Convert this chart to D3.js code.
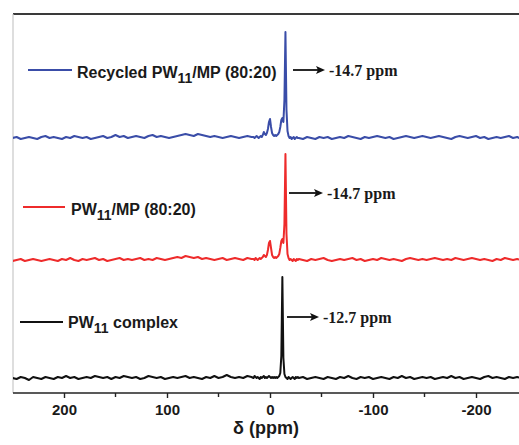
<!DOCTYPE html>
<html>
<head>
<meta charset="utf-8">
<script src="https://cdn.jsdelivr.net/npm/d3@7"></script>
<style>
  html, body { margin: 0; padding: 0; background: #fff; }
  svg { display: block; }
</style>
</head>
<body>
<svg id="chart" width="519" height="445"></svg>
<script>
// ---- data ----
// chemical shift grid (ppm): coarse / fine (peak region) / coarse
const ppmGrid = [].concat(d3.range(250, 16, -4), d3.range(16, -28, -1), d3.range(-28, -251, -4));

const seriesNames = ["Recycled PW11/MP (80:20)", "PW11/MP (80:20)", "PW11 complex"];
const seriesColors = ["#3a4da8", "#ee2b2b", "#111111"];
const seriesOffsets = [255, 133, 15];
const peakLabels = ["-14.7 ppm", "-14.7 ppm", "-12.7 ppm"];
const xTicksMajor = [200, 100, 0, -100, -200];
const xTicksMinor = [150, 50, -50, -150];

const recycledValues = [
  0, 1, -1, 0, 1, 0, -1, 1, 2, 0,
  1, 0, -1, 1, 0, 2, 1, 0, 1, -1,
  0, 1, 2, 0, 1, 3, 1, 2, 0, 1,
  2, 1, 0, 2, 3, 1, 2, 1, 0, 1,
  2, 3, 4, 3, 2, 4, 3, 2, 1, 2,
  1, 0, 1, 2, 1, 0, 1, 2, 1,
  // fine 16 .. -27
  1, 0, 1, 2, 1, 0, 1, 2, 1, 3,
  6, 4, 3, 5, 9, 16, 19, 11, 5, 3,
  2, 3, 2, 3, 4, 6, 11, 18, 20, 16,
  38, 106, 28, 7, 2, 0, 1, -1, 0, 1,
  -1, 0, 1, 0,
  // coarse -28 .. -248
  0, -1, 1, 0, -1, 1, 0, 1, -1, 0,
  1, 0, 2, 1, 0, -1, 1, 0, 1, 2,
  1, 0, 1, -1, 0, 1, 2, 1, 0, 1,
  2, 1, 0, 1, 2, 1, 0, -1, 1, 2,
  1, 0, 1, 2, 0, 1, -1, 0, 1, 0,
  1, 2, 0, 1, -1, 0
];

const freshValues = [
  -1, 0, 1, -1, 0, 1, 0, -1, 0, 1,
  0, -1, 1, 0, 2, 0, -1, 1, 0, 1,
  2, 0, 1, -1, 0, 1, 2, 0, 1, 0,
  1, 2, 0, 1, 0, 2, 1, 0, 1, 2,
  3, 2, 4, 3, 2, 3, 1, 2, 1, 0,
  1, 2, 0, 1, 2, 1, 0, 2, 1,
  // fine 16 .. -27
  1, 0, 2, 1, 0, 1, 2, 1, 2, 3,
  5, 4, 3, 5, 10, 17, 19, 12, 5, 3,
  2, 3, 2, 3, 4, 6, 12, 19, 21, 17,
  36, 106, 26, 6, 2, 0, 1, 0, -1, 1,
  0, -1, 1, 0,
  // coarse -28 .. -248
  1, 0, -1, 1, 0, 1, 2, 0, -1, 0,
  1, 0, 1, 2, 0, 1, -1, 0, 1, 0,
  2, 1, 0, 1, 0, -1, 1, 2, 1, 0,
  1, 0, 1, 2, 1, 0, 1, 0, 2, 1,
  0, 1, 2, 1, 0, 1, 0, -1, 1, 0,
  2, 1, 0, 1, 0, 1
];

const complexValues = [
  0, -1, 1, 0, -2, 1, 0, -1, 1, 0,
  -1, 1, 0, 2, 0, 1, -1, 0, 1, 0,
  2, 1, 0, 1, -1, 1, 0, 2, 1, 0,
  1, -1, 0, 2, 1, 0, 1, -1, 0, 1,
  0, 1, 2, 0, 1, 0, -1, 1, 0, 2,
  0, 1, 3, 1, 0, 1, 0, 2, 1,
  // fine 16 .. -27
  0, 2, 1, 0, 1, 0, -1, 1, 0, 1,
  2, 0, 1, 0, 1, 2, 1, 0, 1, 0,
  1, 0, 1, 0, 1, 2, 5, 22, 101, 20,
  4, 1, 0, -1, 1, 0, -1, 0, 1, 0,
  -1, 1, 0, 1,
  // coarse -28 .. -248
  0, 1, -1, 0, 1, 0, -1, 1, 0, -1,
  1, 0, 2, 0, -1, 1, 0, 1, -1, 0,
  1, 0, -1, 1, 0, 2, 0, 1, -1, 0,
  1, 0, 1, -1, 0, 1, 0, 2, 0, 1,
  -1, 0, 1, 0, -1, 1, 2, 0, 1, 0,
  -1, 1, 0, 1, 0, -1
];

const seriesValues = [recycledValues, freshValues, complexValues];

// ---- layout ----
const svg = d3.select("#chart");
const plot = { left: 13, top: 14, bottom: 393, right: 519 };

const x = d3.scaleLinear().domain([250, -250]).range([12.5, 527.5]);
const y = d3.scaleLinear().domain([0, 380]).range([393, 13]);

svg.append("defs").append("clipPath").attr("id", "clip")
  .append("rect").attr("x", plot.left).attr("y", plot.top - 2)
  .attr("width", plot.right - plot.left).attr("height", plot.bottom - plot.top + 2);

// frame
svg.append("line").attr("x1", plot.left).attr("x2", plot.right)
  .attr("y1", plot.top).attr("y2", plot.top)
  .attr("stroke", "#3a3a3a").attr("stroke-width", 2);
svg.append("line").attr("x1", plot.left).attr("x2", plot.left)
  .attr("y1", plot.top).attr("y2", plot.bottom)
  .attr("stroke", "#c8c8c8").attr("stroke-width", 1.2);

// spectra
const gSpec = svg.append("g").attr("clip-path", "url(#clip)");
seriesValues.forEach((vals, i) => {
  const pts = ppmGrid.map((p, k) => [p, vals[k] + seriesOffsets[i]]);
  gSpec.append("path")
    .attr("d", d3.line().x(d => x(d[0])).y(d => y(d[1]))(pts))
    .attr("fill", "none")
    .attr("stroke", seriesColors[i])
    .attr("stroke-width", 2)
    .attr("stroke-linejoin", "round");
});

// x axis
const axisG = svg.append("g").attr("transform", `translate(0,${plot.bottom})`);
axisG.call(d3.axisBottom(x).tickValues(xTicksMajor).tickSize(5).tickPadding(6).tickFormat(d => String(d)));
axisG.select(".domain").remove();
axisG.append("line").attr("x1", plot.left).attr("x2", plot.right).attr("y1", 0).attr("y2", 0)
  .attr("stroke", "#222").attr("stroke-width", 1.6);
axisG.selectAll(".tick line").attr("stroke", "#222").attr("stroke-width", 1.4);
axisG.selectAll(".tick text")
  .attr("font-family", "Liberation Sans, Arial, sans-serif")
  .attr("font-weight", "bold").attr("font-size", 15).attr("fill", "#1a1a1a");
axisG.selectAll(".minor").data(xTicksMinor).enter().append("line")
  .attr("class", "minor")
  .attr("x1", d => x(d)).attr("x2", d => x(d)).attr("y1", 0).attr("y2", 4)
  .attr("stroke", "#222").attr("stroke-width", 1.4);

svg.append("text").attr("x", 266).attr("y", 434)
  .attr("text-anchor", "middle")
  .attr("font-family", "Liberation Sans, Arial, sans-serif")
  .attr("font-weight", "bold").attr("font-size", 18).attr("fill", "#1a1a1a")
  .text("δ (ppm)");

// legends (inline labels)
const legendPos = [
  { x1: 28, x2: 72, y: 70, tx: 77, ty: 78 },
  { x1: 23, x2: 65, y: 207, tx: 71, ty: 215 },
  { x1: 20, x2: 63, y: 322, tx: 68, ty: 328 }
];
seriesNames.forEach((name, i) => {
  const p = legendPos[i];
  svg.append("line").attr("x1", p.x1).attr("x2", p.x2).attr("y1", p.y).attr("y2", p.y)
    .attr("stroke", seriesColors[i]).attr("stroke-width", 2);
  const t = svg.append("text").attr("x", p.tx).attr("y", p.ty)
    .attr("font-family", "Liberation Sans, Arial, sans-serif")
    .attr("font-weight", "bold").attr("font-size", 16).attr("fill", "#1a1a1a");
  const parts = name.split("11");
  t.append("tspan").text(parts[0]);
  t.append("tspan").attr("font-size", 14).attr("dy", 5).text("11");
  t.append("tspan").attr("dy", -5).text(parts[1]);
});

// peak annotations
const annPos = [
  { x1: 293, x2: 325, y: 70 },
  { x1: 289, x2: 323, y: 193 },
  { x1: 287, x2: 319, y: 317 }
];
peakLabels.forEach((lab, i) => {
  const a = annPos[i];
  svg.append("line").attr("x1", a.x1).attr("x2", a.x2 - 6).attr("y1", a.y).attr("y2", a.y)
    .attr("stroke", "#111").attr("stroke-width", 1.8);
  svg.append("path")
    .attr("d", `M${a.x2},${a.y} L${a.x2 - 9},${a.y - 4} L${a.x2 - 7},${a.y} L${a.x2 - 9},${a.y + 4} Z`)
    .attr("fill", "#111");
  svg.append("text").attr("x", a.x2 + 4).attr("y", a.y + 6)
    .attr("font-family", "Liberation Serif, Times New Roman, serif")
    .attr("font-weight", "bold").attr("font-size", 16).attr("fill", "#1a1a1a")
    .text(lab);
});
</script>
</body>
</html>
